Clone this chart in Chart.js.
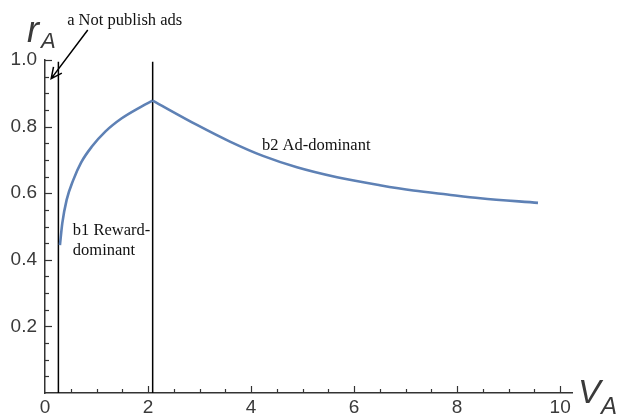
<!DOCTYPE html>
<html lang="en">
<head>
    <meta charset="UTF-8">
    <title>r_A vs V_A</title>
    <script src="https://cdn.jsdelivr.net/npm/chart.js"></script>
    <style>
        body { margin: 0; background: #fff; }
        #wrap { width: 622px; height: 416px; }
    </style>
</head>
<body>
    <div id="wrap"><canvas id="raChart"></canvas></div>
    <script>
        // curve: reward-dominant part, then ad-dominant part
        const rewardX = [0.29, 0.336, 0.42, 0.55, 0.70, 0.91, 1.17, 1.49, 1.81, 2.09];
        const rewardY = [0.444, 0.51, 0.58, 0.64, 0.692, 0.74, 0.785, 0.825, 0.855, 0.878];
        const adX = [2.09, 2.95, 3.59, 4.23, 4.89, 5.67, 6.5, 7.15, 7.81, 8.45, 9.57];
        const adY = [0.878, 0.805, 0.755, 0.712, 0.678, 0.648, 0.624, 0.608, 0.596, 0.585, 0.571];

        // region boundaries
        const boundaryX = [0.26, 2.09];
        const boundaryTop = 0.995;

        // tick labels
        const xLabelValues = [0, 2, 4, 6, 8, 10];
        const yLabelValues = [0.2, 0.4, 0.6, 0.8, 1.0];

        const textColor = '#3a3a3a';
        const curveColor = '#5e81b5';

        function near(v, list) {
            return list.some(t => Math.abs(t - v) < 1e-6);
        }
        function onStep(v, step) {
            return Math.abs(v / step - Math.round(v / step)) < 1e-6;
        }
        function toPoints(xs, ys) {
            return xs.map((x, i) => ({ x: x, y: ys[i] }));
        }
        // major + minor tick positions between two labels
        function tickValues(labels, step) {
            const out = [];
            const last = labels[labels.length - 1];
            for (let v = labels[0]; v <= last + 1e-9; v += step) out.push({ value: Math.round(v * 1000) / 1000 });
            return out;
        }

        const boundarySets = boundaryX.map(x => ({
            data: [{ x: x, y: 0 }, { x: x, y: boundaryTop }],
            borderColor: '#000',
            borderWidth: 1.5,
            pointRadius: 0,
            showLine: true
        }));

        // ticks inside the axes, annotations, arrow and axis names
        const decorations = {
            id: 'decorations',
            afterDraw(chart) {
                const ctx = chart.ctx;
                const xs = chart.scales.x, ys = chart.scales.y;
                const area = chart.chartArea;
                ctx.save();
                ctx.strokeStyle = '#333';
                ctx.lineWidth = 1.2;
                ys.ticks.forEach(t => {
                    if (t.value <= 0) return;
                    const major = near(t.value, yLabelValues);
                    const py = Math.round(ys.getPixelForValue(t.value)) + 0.5;
                    ctx.beginPath();
                    ctx.moveTo(area.left, py);
                    ctx.lineTo(area.left + (major ? 7 : 4), py);
                    ctx.stroke();
                });
                xs.ticks.forEach(t => {
                    if (t.value <= 0) return;
                    const major = near(t.value, xLabelValues);
                    const px = Math.round(xs.getPixelForValue(t.value)) + 0.5;
                    ctx.beginPath();
                    ctx.moveTo(px, area.bottom);
                    ctx.lineTo(px, area.bottom - (major ? 7 : 4));
                    ctx.stroke();
                });

                // arrow to the "not publish ads" strip
                const tail = { x: xs.getPixelForValue(0.83), y: ys.getPixelForValue(1.09) };
                const tip = { x: xs.getPixelForValue(0.12), y: ys.getPixelForValue(0.944) };
                const ang = Math.atan2(tip.y - tail.y, tip.x - tail.x);
                ctx.strokeStyle = '#000';
                ctx.lineWidth = 1.5;
                ctx.beginPath();
                ctx.moveTo(tail.x, tail.y);
                ctx.lineTo(tip.x, tip.y);
                ctx.moveTo(tip.x - 12 * Math.cos(ang - 0.45), tip.y - 12 * Math.sin(ang - 0.45));
                ctx.lineTo(tip.x, tip.y);
                ctx.lineTo(tip.x - 12 * Math.cos(ang + 0.45), tip.y - 12 * Math.sin(ang + 0.45));
                ctx.stroke();

                // region notes
                ctx.fillStyle = '#111';
                ctx.textBaseline = 'alphabetic';
                ctx.textAlign = 'left';
                ctx.font = '16.5px "Liberation Serif", "Times New Roman", serif';
                ctx.fillText('a Not publish ads', xs.getPixelForValue(0.43), ys.getPixelForValue(1.105));
                ctx.fillText('b2 Ad-dominant', xs.getPixelForValue(4.21), ys.getPixelForValue(0.73));
                ctx.fillText('b1 Reward-', xs.getPixelForValue(0.54), ys.getPixelForValue(0.474));
                ctx.fillText('dominant', xs.getPixelForValue(0.54), ys.getPixelForValue(0.414));

                // axis names
                ctx.fillStyle = textColor;
                ctx.font = 'italic 36px "Liberation Sans", Arial, sans-serif';
                ctx.fillText('r', 27, 42);
                ctx.font = 'italic 22px "Liberation Sans", Arial, sans-serif';
                ctx.fillText('A', 41, 48);
                ctx.font = 'italic 34px "Liberation Sans", Arial, sans-serif';
                ctx.fillText('V', 578, 403);
                ctx.font = 'italic 24px "Liberation Sans", Arial, sans-serif';
                ctx.fillText('A', 601, 414);
                ctx.restore();
            }
        };

        new Chart(document.getElementById('raChart'), {
            type: 'scatter',
            data: {
                datasets: [
                    {
                        data: toPoints(rewardX, rewardY),
                        borderColor: curveColor,
                        borderWidth: 2.6,
                        pointRadius: 0,
                        showLine: true,
                        cubicInterpolationMode: 'monotone'
                    },
                    {
                        data: toPoints(adX, adY),
                        borderColor: curveColor,
                        borderWidth: 2.6,
                        pointRadius: 0,
                        showLine: true,
                        cubicInterpolationMode: 'monotone'
                    },
                    ...boundarySets
                ]
            },
            options: {
                responsive: true,
                maintainAspectRatio: false,
                animation: false,
                layout: { padding: { left: 0, top: 60, right: 50, bottom: 0 } },
                plugins: {
                    legend: { display: false },
                    tooltip: { enabled: false }
                },
                scales: {
                    x: {
                        type: 'linear',
                        min: 0,
                        max: 10.23,
                        grid: { display: false, drawTicks: false },
                        border: { display: true, color: '#333', width: 1.5 },
                        afterFit(scale) { scale.height = 23; },
                        afterBuildTicks(scale) { scale.ticks = tickValues(xLabelValues, 0.5); },
                        ticks: {
                            autoSkip: false,
                            maxRotation: 0,
                            padding: 3,
                            color: textColor,
                            font: { family: '"Liberation Sans", Arial, sans-serif', size: 19 },
                            callback: v => near(v, xLabelValues) ? String(Math.round(v)) : ''
                        }
                    },
                    y: {
                        type: 'linear',
                        min: 0,
                        max: 1,
                        grid: { display: false, drawTicks: false },
                        border: { display: true, color: '#333', width: 1.5 },
                        afterFit(scale) { scale.width = 45; },
                        afterBuildTicks(scale) { scale.ticks = tickValues([0, 1], 0.05); },
                        ticks: {
                            autoSkip: false,
                            padding: 8,
                            color: textColor,
                            font: { family: '"Liberation Sans", Arial, sans-serif', size: 19 },
                            callback: v => near(v, yLabelValues) ? v.toFixed(1) : ''
                        }
                    }
                }
            },
            plugins: [decorations]
        });
    </script>
</body>
</html>
